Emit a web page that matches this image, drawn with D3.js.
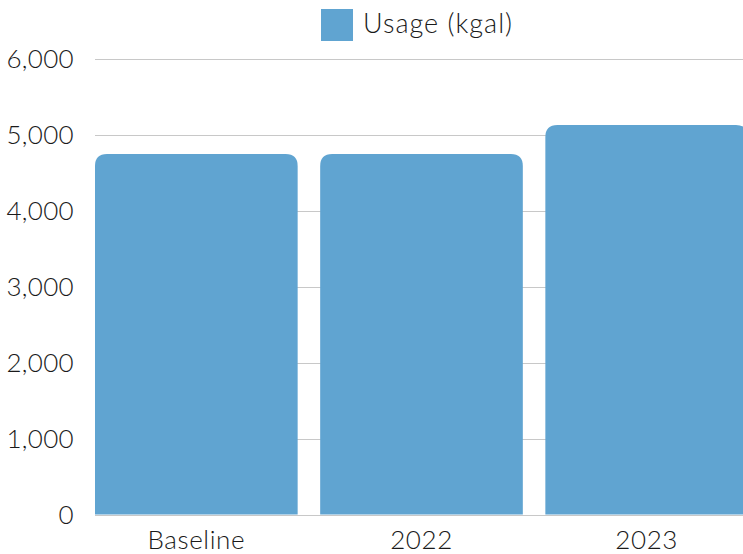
<!DOCTYPE html>
<html>
<head>
<meta charset="utf-8">
<script src="https://cdn.jsdelivr.net/npm/d3@7"></script>
<style>
  body { margin: 0; background: #fff; }
  text { font-family: Lato, "Open Sans", sans-serif; font-weight: 300; fill: #1a1a1a; }
</style>
</head>
<body>
<div id="chart"></div>
<script>
var categories = ["Baseline", "2022", "2023"];
var usage = [4750, 4750, 5130];
var yTicks = [0, 1000, 2000, 3000, 4000, 5000, 6000];
var seriesName = "Usage (kgal)";

var width = 743,
  height = 554;

var barColor = "#60a4d1";

var svg = d3.select("#chart").append("svg")
  .attr("width", width)
  .attr("height", height);

var x = d3.scaleBand()
  .domain(categories)
  .range([95, 748])
  .paddingInner(0.1)
  .paddingOuter(0);

var y = d3.scaleLinear()
  .domain([0, 6000])
  .range([514.5, 59]);

// gridlines
svg.append("g")
  .selectAll("line")
  .data(yTicks)
  .join("line")
  .attr("x1", 95)
  .attr("x2", width)
  .attr("y1", function(d) { return Math.round(y(d)) + 0.5; })
  .attr("y2", function(d) { return Math.round(y(d)) + 0.5; })
  .style("stroke", "#c8c8c8")
  .style("stroke-width", 1);

// y labels
svg.append("g")
  .selectAll("text")
  .data(yTicks)
  .join("text")
  .attr("x", 74)
  .attr("y", function(d) { return y(d); })
  .attr("dy", "0.35em")
  .attr("text-anchor", "end")
  .style("font-size", "26px")
  .style("letter-spacing", "0.3px")
  .text(function(d) { return d3.format(",")(d); });

// bars with rounded tops
var r = 12;
svg.append("g")
  .selectAll("path")
  .data(usage)
  .join("path")
  .attr("d", function(d, i) {
    var x0 = x(categories[i]), x1 = x0 + x.bandwidth();
    var y0 = y(0), y1 = y(d);
    return "M" + x0 + "," + y0 +
      "V" + (y1 + r) +
      "Q" + x0 + "," + y1 + " " + (x0 + r) + "," + y1 +
      "H" + (x1 - r) +
      "Q" + x1 + "," + y1 + " " + x1 + "," + (y1 + r) +
      "V" + y0 + "Z";
  })
  .style("fill", barColor);

// x labels
svg.append("g")
  .selectAll("text")
  .data(categories)
  .join("text")
  .attr("x", function(d) { return x(d) + x.bandwidth() / 2; })
  .attr("y", 549)
  .attr("text-anchor", "middle")
  .style("font-size", "26px")
  .style("letter-spacing", "0.6px")
  .text(function(d) { return d; });

// legend
var legend = svg.append("g");
legend.append("rect")
  .attr("x", 321)
  .attr("y", 9)
  .attr("width", 32)
  .attr("height", 32)
  .style("fill", barColor);
legend.append("text")
  .attr("x", 363)
  .attr("y", 33)
  .style("font-size", "27px")
  .style("letter-spacing", "1px")
  .text(seriesName);
</script>
</body>
</html>
